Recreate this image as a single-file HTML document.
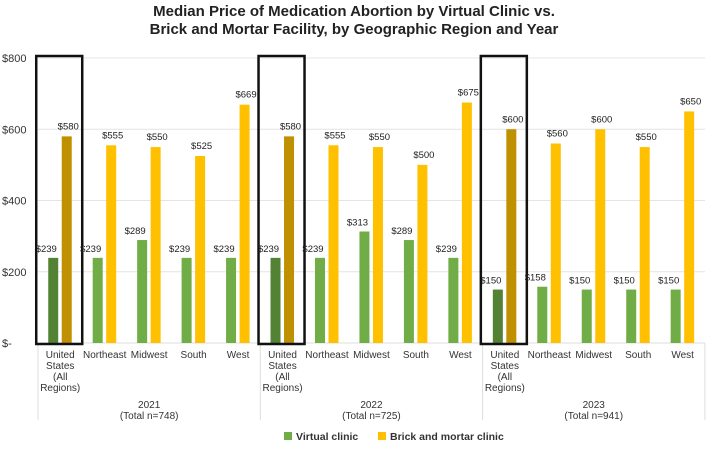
<!DOCTYPE html>
<html><head><meta charset="utf-8"><style>
body{margin:0;background:#fff;}
svg text{font-family:"Liberation Sans",Arial,sans-serif;}
</style></head><body>
<svg id="c" width="709" height="452">
<text x="354" y="16" text-anchor="middle" font-size="15" font-weight="bold" fill="#222">Median Price of Medication Abortion by Virtual Clinic vs.</text>
<text x="354" y="34" text-anchor="middle" font-size="15" font-weight="bold" fill="#222">Brick and Mortar Facility, by Geographic Region and Year</text>
<g id="plot"></g>
<g>
<rect x="284" y="432" width="8" height="8" fill="#70ad47"/>
<text x="296" y="440" font-size="10.5" font-weight="bold" fill="#333">Virtual clinic</text>
<rect x="378" y="432" width="8" height="8" fill="#ffc000"/>
<text x="390" y="440" font-size="10.5" font-weight="bold" fill="#333">Brick and mortar clinic</text>
</g>
</svg>
<script>
const years=["2021","2022","2023"];
const totals=["(Total n=748)","(Total n=725)","(Total n=941)"];
const regions=["United States (All Regions)","Northeast","Midwest","South","West"];
const virtual=[[239,239,289,239,239],[239,239,313,289,239],[150,158,150,150,150]];
const brick=[[580,555,550,525,669],[580,555,550,500,675],[600,560,600,550,650]];
const yTicks=[0,200,400,600,800];
const yTickLabels=["$-","$200","$400","$600","$800"];
const NS="http://www.w3.org/2000/svg";
const g=document.getElementById('plot');
const X0=38,GW=222.3,CW=GW/5,Y0=343,Y1=58,YMAX=800;
const y=v=>Y0-(v/YMAX)*(Y0-Y1);
function el(t,a,txt){const e=document.createElementNS(NS,t);for(const k in a)e.setAttribute(k,a[k]);if(txt!=null)e.textContent=txt;g.appendChild(e);return e;}
yTicks.forEach((t,i)=>{
 const l=el('line',{x1:X0,x2:705,y1:y(t),y2:y(t),stroke:'#e4e4e4','stroke-width':1});
 
 
 const tx=el('text',{x:2,y:y(t)+4,'font-size':11,fill:'#333'},yTickLabels[i]);
 
 
});
for(let s=0;s<=3;s++){
 const l=el('line',{x1:X0+s*GW,x2:X0+s*GW,y1:y(0),y2:420,stroke:'#ddd','stroke-width':1});
 
 
}
const ax=el('line',{x1:X0,x2:705,y1:y(0),y2:y(0),stroke:'#ddd','stroke-width':1});


years.forEach((yr,gi)=>{
 regions.forEach((r,ci)=>{
  const cx=X0+gi*GW+ci*CW+CW/2;
  const us=ci===0;
  const v=virtual[gi][ci],b=brick[gi][ci];
  const b1=el('rect',{x:cx-12,y:y(v),width:10,height:y(0)-y(v),fill:us?'#548235':'#70ad47'});
  
  
  const b2=el('rect',{x:cx+1.5,y:y(b),width:10,height:y(0)-y(b),fill:us?'#bf9000':'#ffc000'});
  
  
  const t1=el('text',{x:cx-14,y:y(v)-6,'text-anchor':'middle','font-size':9.5,fill:'#222'},'$'+v);
  
  
  const t2=el('text',{x:cx+8,y:y(b)-7,'text-anchor':'middle','font-size':9.5,fill:'#222'},'$'+b);
  
  
  const lines=us?["United","States","(All","Regions)"]:[r];
  lines.forEach((ln,li)=>{
   const t=el('text',{x:cx,y:358+li*11,'text-anchor':'middle','font-size':10,fill:'#333'},ln);
   
   
  });
  if(us){
   const bx=el('rect',{x:cx-24,y:y(800)-2,width:46,height:y(0)-y(800)+3,fill:'none',stroke:'#111','stroke-width':2.5});
   
   
  }
 });
 const gx=X0+gi*GW+GW/2;
 const ty=el('text',{x:gx,y:408,'text-anchor':'middle','font-size':10,fill:'#333'},yr);
 
 
 const tt=el('text',{x:gx,y:419,'text-anchor':'middle','font-size':10,fill:'#333'},totals[gi]);
 
 
});
</script>
</body></html>
